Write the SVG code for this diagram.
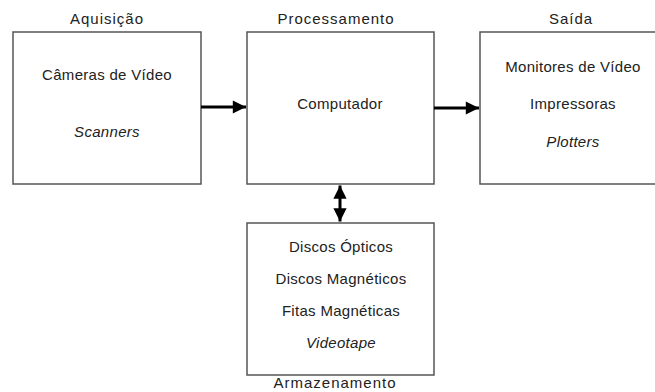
<svg xmlns="http://www.w3.org/2000/svg" width="655" height="392" viewBox="0 0 655 392">
<style>
.box{fill:#fff;stroke:#555;stroke-width:1.5}
.t{font-family:"Liberation Sans",Arial,sans-serif;font-size:15px;fill:#222;text-anchor:middle;letter-spacing:0.3px}
.h{font-family:"Liberation Sans",Arial,sans-serif;font-size:15px;fill:#222;text-anchor:middle;letter-spacing:1px}
.i{font-style:italic}
.c{stroke:#000;stroke-width:3;fill:none}
</style>
<defs>
<marker id="ah" viewBox="0 0 10 10" refX="10" refY="5" markerWidth="5" markerHeight="4.4" orient="auto-start-reverse" markerUnits="strokeWidth">
<path d="M0,0 L10,5 L0,10 Z" fill="#000"/>
</marker>
</defs>
<rect width="655" height="392" fill="#fff"/>
<g id="aquisicao">
<rect class="box" x="13" y="32" width="188" height="152"/>
<text class="h" x="107" y="24">Aquisição</text>
<text class="t" x="107" y="80">Câmeras de Vídeo</text>
<text class="t i" x="107" y="137">Scanners</text>
</g>
<g id="processamento">
<rect class="box" x="247" y="32" width="187" height="152"/>
<text class="h" x="336" y="24">Processamento</text>
<text class="t" x="340" y="109">Computador</text>
</g>
<g id="saida">
<rect class="box" x="480" y="32" width="186" height="152"/>
<text class="h" x="571" y="24">Saída</text>
<text class="t" x="573" y="72">Monitores de Vídeo</text>
<text class="t" x="573" y="109">Impressoras</text>
<text class="t i" x="573" y="147">Plotters</text>
</g>
<g id="armazenamento">
<rect class="box" x="247" y="223" width="187" height="152"/>
<text class="t" x="341" y="252">Discos Ópticos</text>
<text class="t" x="341" y="284">Discos Magnéticos</text>
<text class="t" x="341" y="316">Fitas Magnéticas</text>
<text class="t i" x="341" y="348">Videotape</text>
<text class="h" x="335" y="388">Armazenamento</text>
</g>
<g id="connectors">
<line class="c" x1="201" y1="107" x2="246" y2="107" marker-end="url(#ah)"/>
<line class="c" x1="434" y1="108" x2="479" y2="108" marker-end="url(#ah)"/>
<line class="c" x1="340" y1="185.5" x2="340" y2="221.5" marker-start="url(#ah)" marker-end="url(#ah)"/>
</g>
</svg>
